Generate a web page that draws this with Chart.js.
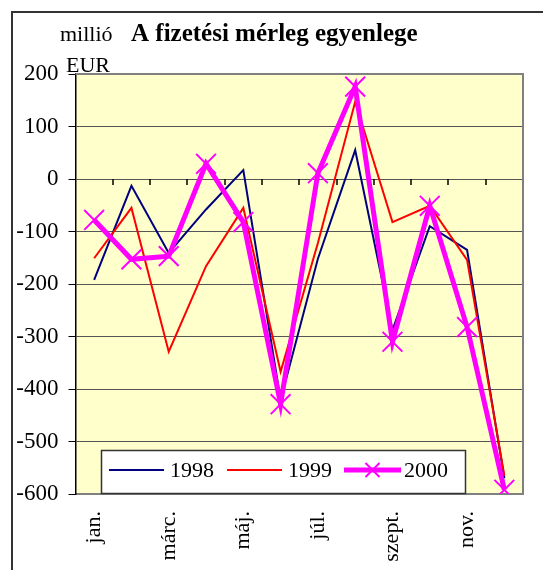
<!DOCTYPE html>
<html>
<head>
<meta charset="utf-8">
<script src="https://cdn.jsdelivr.net/npm/chart.js@4"></script>
<style>
  html, body { margin: 0; padding: 0; background: #fff; }
  canvas { display: block; }
</style>
</head>
<body>
<canvas id="chart" width="543" height="570"></canvas>
<script>
const months = ['jan.', 'febr.', 'márc.', 'ápr.', 'máj.', 'jún.', 'júl.', 'aug.', 'szept.', 'okt.', 'nov.', 'dec.'];
const tickLabels = ['jan.', '', 'márc.', '', 'máj.', '', 'júl.', '', 'szept.', '', 'nov.', ''];
const v1998 = [-192, -13, -141, -58, 17, -421, -152, 55, -288, -90, -135, -570];
const v1999 = [-151, -55, -329, -166, -55, -367, -122, 147, -82, -51, -154, -565];
const v2000 = [-78, -153, -147, 29, -82, -429, 11, 176, -310, -51, -282, -592];
const yMin = -600, yMax = 200, yStep = 100;

const serif = '"Liberation Serif", "DejaVu Serif", serif';

// yellow plot area, outer frame, title and unit
const background = {
    id: 'background',
    beforeDraw(chart) {
        const { ctx, chartArea: a } = chart;
        ctx.save();
        ctx.fillStyle = '#ffffcc';
        ctx.fillRect(a.left, a.top, a.right - a.left, a.bottom - a.top);

        ctx.strokeStyle = '#333';
        ctx.lineWidth = 2;
        ctx.beginPath();
        ctx.moveTo(12, 570);
        ctx.lineTo(12, 12);
        ctx.lineTo(543, 12);
        ctx.stroke();

        ctx.fillStyle = '#000';
        ctx.textBaseline = 'alphabetic';
        ctx.textAlign = 'left';
        ctx.font = '22px ' + serif;
        ctx.fillText('millió', 60, 41);
        ctx.fillText('EUR', 66, 72);
        ctx.font = 'bold 25px ' + serif;
        ctx.fillText('A fizetési mérleg egyenlege', 131, 41);
        ctx.restore();
    },
    beforeDatasetsDraw(chart) {
        // small tick marks on the zero line between months
        const { ctx, chartArea: a } = chart;
        const xs = chart.scales.x, ys = chart.scales.y;
        const y0 = ys.getPixelForValue(0);
        const half = (xs.getPixelForValue(1) - xs.getPixelForValue(0)) / 2;
        ctx.save();
        ctx.strokeStyle = '#000';
        ctx.lineWidth = 1.5;
        ctx.beginPath();
        for (let i = 0; i < months.length; i++) {
            const x = Math.round(xs.getPixelForValue(i) + half);
            ctx.moveTo(x, y0);
            ctx.lineTo(x, y0 + 6);
        }
        ctx.stroke();

        // gray top and right border of plot
        ctx.strokeStyle = '#808080';
        ctx.lineWidth = 2;
        ctx.beginPath();
        ctx.moveTo(a.left, a.top);
        ctx.lineTo(a.right, a.top);
        ctx.lineTo(a.right, a.bottom);
        ctx.stroke();
        ctx.restore();
    }
};

// legend box inside the plot
const legendBox = {
    id: 'legendBox',
    afterDatasetsDraw(chart) {
        const { ctx } = chart;
        ctx.save();
        ctx.fillStyle = '#fff';
        ctx.fillRect(101.5, 450.5, 364, 43);
        ctx.strokeStyle = '#333';
        ctx.lineWidth = 1.5;
        ctx.strokeRect(101.5, 450.5, 364, 43);

        const items = [
            { ds: chart.data.datasets[1], x1: 109, x2: 164, tx: 170 },
            { ds: chart.data.datasets[2], x1: 227, x2: 282, tx: 288 },
            { ds: chart.data.datasets[0], x1: 344, x2: 401, tx: 404 }
        ];
        const y = 470;
        ctx.font = '22px ' + serif;
        ctx.textBaseline = 'middle';
        ctx.textAlign = 'left';
        items.forEach(it => {
            ctx.strokeStyle = it.ds.borderColor;
            ctx.lineWidth = it.ds.borderWidth;
            ctx.beginPath();
            ctx.moveTo(it.x1, y);
            ctx.lineTo(it.x2, y);
            ctx.stroke();
            if (it.ds.pointRadius > 0) {
                const r = 7, cx = (it.x1 + it.x2) / 2;
                ctx.lineWidth = 2;
                ctx.beginPath();
                ctx.moveTo(cx - r, y - r); ctx.lineTo(cx + r, y + r);
                ctx.moveTo(cx - r, y + r); ctx.lineTo(cx + r, y - r);
                ctx.stroke();
            }
            ctx.fillStyle = '#000';
            ctx.fillText(it.ds.label, it.tx, y + 1);
        });
        ctx.restore();
    }
};

new Chart(document.getElementById('chart'), {
    type: 'line',
    data: {
        labels: months,
        datasets: [
            {
                label: '2000',
                data: v2000,
                borderColor: '#ff00ff',
                backgroundColor: '#ff00ff',
                borderWidth: 5,
                pointStyle: 'crossRot',
                pointRadius: 14,
                pointBorderWidth: 2,
                pointBorderColor: '#ff00ff',
                order: 0
            },
            {
                label: '1998',
                data: v1998,
                borderColor: '#000080',
                borderWidth: 2,
                pointRadius: 0,
                order: 2
            },
            {
                label: '1999',
                data: v1999,
                borderColor: '#ff0000',
                borderWidth: 2,
                pointRadius: 0,
                order: 1
            }
        ]
    },
    options: {
        responsive: false,
        animation: false,
        layout: { padding: { left: 0, top: 74, right: 20, bottom: 0 } },
        elements: { line: { tension: 0 } },
        plugins: {
            legend: { display: false },
            tooltip: { enabled: false }
        },
        scales: {
            x: {
                offset: true,
                grid: { display: false },
                border: { color: '#808080', width: 2 },
                ticks: {
                    autoSkip: false,
                    minRotation: 90,
                    maxRotation: 90,
                    padding: 9,
                    color: '#000',
                    font: { family: serif, size: 22 },
                    callback: (v, i) => tickLabels[i]
                },
                afterFit(scale) { scale.height = 76; }
            },
            y: {
                min: yMin,
                max: yMax,
                ticks: {
                    stepSize: yStep,
                    padding: 10,
                    color: '#000',
                    font: { family: serif, size: 23 }
                },
                grid: {
                    color: '#555',
                    lineWidth: 1,
                    tickColor: '#000',
                    tickLength: 7
                },
                border: { color: '#000', width: 1.5 },
                afterFit(scale) { scale.width = 75.5; }
            }
        }
    },
    plugins: [background, legendBox]
});
</script>
</body>
</html>
